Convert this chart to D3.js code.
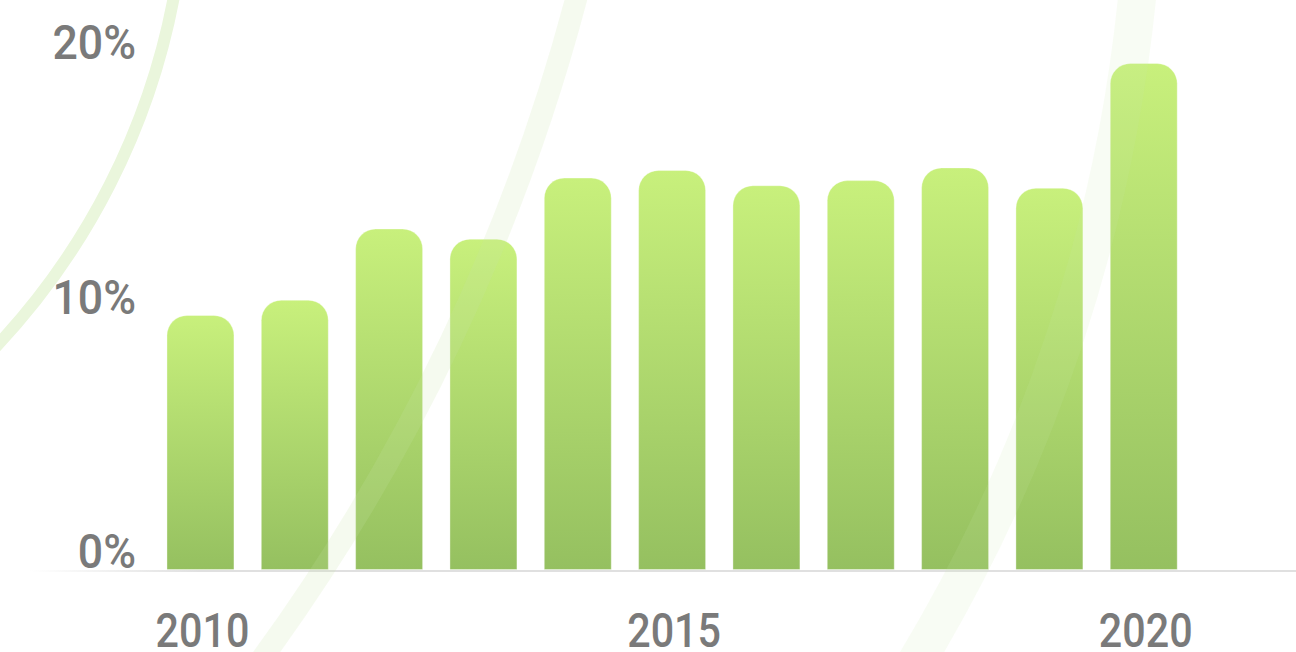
<!DOCTYPE html>
<html>

<head>
    <meta charset="utf-8">
    <style>
        body {
            margin: 0;
            background: white;
        }

        svg {
            display: block;
        }

        .tick-label {
            font-family: Roboto, 'Noto Sans', sans-serif;
            font-size: 48px;
            font-weight: 500;
            fill: #7a7a7a;
        }
    </style>
</head>

<body>
    <svg width="1296" height="652"></svg>
</body>

<script src="https://d3js.org/d3.v7.min.js"></script>

<script>

    // chart data
    let years = [2010, 2011, 2012, 2013, 2014, 2015, 2016, 2017, 2018, 2019, 2020]
    let values = [10.0, 10.6, 13.4, 13.0, 15.4, 15.7, 15.1, 15.3, 15.8, 15.0, 19.9]
    let yTicks = [0, 10, 20]
    let xTickYears = [2010, 2015, 2020]

    let width = 1296
    let height = 652

    let svg = d3.select("svg")

    let x = d3.scaleBand()
        .domain(years)
        .range([153.3, 1190.9])
        .paddingInner(0.29)
        .paddingOuter(0.145)

    let y = d3.scaleLinear()
        .domain([0, 20])
        .range([570, 61])

    let defs = svg.append("defs")

    let grad = defs.append("linearGradient")
        .attr("id", "barGrad")
        .attr("x1", 0).attr("y1", 0)
        .attr("x2", 0).attr("y2", 1)
    grad.append("stop").attr("offset", "0%").attr("stop-color", "#c8f07c")
    grad.append("stop").attr("offset", "100%").attr("stop-color", "#95c060")

    // baseline fades out to the left
    let lineGrad = defs.append("linearGradient")
        .attr("id", "lineGrad")
        .attr("gradientUnits", "userSpaceOnUse")
        .attr("x1", 30).attr("y1", 0)
        .attr("x2", 200).attr("y2", 0)
    lineGrad.append("stop").attr("offset", "0%").attr("stop-color", "#e0e0e0").attr("stop-opacity", 0)
    lineGrad.append("stop").attr("offset", "100%").attr("stop-color", "#e0e0e0").attr("stop-opacity", 1)

    // decorative sweeping arcs in the background (plain circle arcs)
    svg.append("path")
        .attr("d", "M176,-15 A700,700 0 0 1 -12,355")
        .attr("fill", "none")
        .attr("stroke", "#eaf6dc")
        .attr("stroke-width", 12)

    // baseline
    svg.append("line")
        .attr("x1", 30)
        .attr("x2", width)
        .attr("y1", y(0) + 1)
        .attr("y2", y(0) + 1)
        .attr("stroke", "url(#lineGrad)")
        .attr("stroke-width", 2)

    // bars with rounded tops
    let r = 20
    function barPath(d, i) {
        let x0 = x(years[i])
        let x1 = x0 + x.bandwidth()
        let top = y(d)
        let bottom = y(0) - 0.5
        return "M" + x0 + "," + bottom +
            "L" + x0 + "," + (top + r) +
            "A" + r + "," + r + " 0 0 1 " + (x0 + r) + "," + top +
            "L" + (x1 - r) + "," + top +
            "A" + r + "," + r + " 0 0 1 " + x1 + "," + (top + r) +
            "L" + x1 + "," + bottom + "Z"
    }

    svg.append("g")
        .selectAll("path")
        .data(values)
        .join("path")
        .attr("d", barPath)
        .attr("fill", "url(#barGrad)")
        .attr("stroke", "rgba(255,255,255,0.35)")
        .attr("stroke-width", 1)

    // very faint arcs laid over the bars
    svg.append("path")
        .attr("d", "M579,-12 A1980,1980 0 0 1 258,664")
        .attr("fill", "none")
        .attr("stroke", "#c8e6a8")
        .attr("stroke-opacity", 0.18)
        .attr("stroke-width", 22)

    svg.append("path")
        .attr("d", "M1138,-12 A1600,1600 0 0 1 915,664")
        .attr("fill", "none")
        .attr("stroke", "#c8e6a8")
        .attr("stroke-opacity", 0.13)
        .attr("stroke-width", 38)

    // y labels
    svg.append("g")
        .selectAll("text")
        .data(yTicks)
        .join("text")
        .attr("class", "tick-label")
        .attr("text-anchor", "end")
        .attr("transform", d => "translate(136," + (y(d) - 2) + ") scale(0.93,1)")
        .text(d => d + "%")

    // x labels
    svg.append("g")
        .selectAll("text")
        .data(xTickYears)
        .join("text")
        .attr("class", "tick-label")
        .attr("text-anchor", "middle")
        .attr("transform", d => "translate(" + (x(d) + x.bandwidth() / 2 + 2) + ",647) scale(0.86,1)")
        .text(d => d)

</script>

</html>
